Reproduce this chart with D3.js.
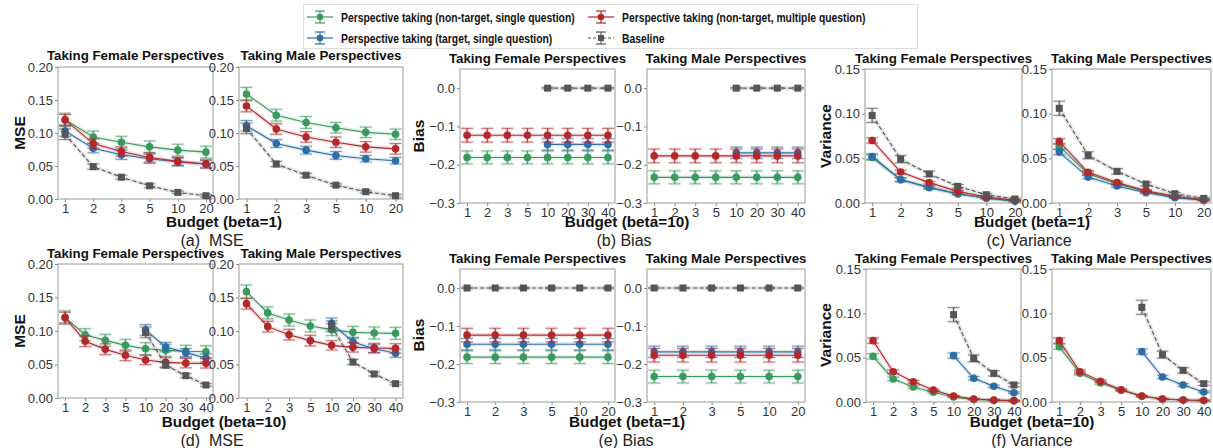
<!DOCTYPE html>
<html>
<head>
<meta charset="utf-8">
<script src="https://cdn.jsdelivr.net/npm/d3@7"></script>
<style>
  body { margin: 0; background: #fff; }
  svg { display: block; font-family: "Liberation Sans", Arial, sans-serif; }
</style>
</head>
<body>
<svg id="chart" width="1213" height="448"></svg>
<script>
// budgets on the x axis
var budgets1 = ["1", "2", "3", "5", "10", "20"];
var budgets10 = ["1", "2", "3", "5", "10", "20", "30", "40"];
var N = null;

// (a) MSE, beta=1
var aFemGreen = [0.120, 0.094, 0.086, 0.079, 0.074, 0.071];
var aFemBlue  = [0.103, 0.077, 0.067, 0.061, 0.056, 0.053];
var aFemRed   = [0.120, 0.084, 0.072, 0.063, 0.057, 0.053];
var aFemBase  = [0.098, 0.049, 0.033, 0.020, 0.010, 0.005];
var aFemGreenErr = [0.010, 0.009, 0.009, 0.009, 0.009, 0.009];
var aFemBlueErr  = [0.008, 0.007, 0.007, 0.007, 0.006, 0.006];
var aFemRedErr   = [0.008, 0.007, 0.007, 0.007, 0.006, 0.006];
var aFemBaseErr  = [0.008, 0.004, 0.003, 0.003, 0.002, 0.002];
var aMaleGreen = [0.159, 0.127, 0.116, 0.108, 0.101, 0.098];
var aMaleBlue  = [0.111, 0.084, 0.074, 0.066, 0.061, 0.058];
var aMaleRed   = [0.141, 0.106, 0.094, 0.086, 0.079, 0.076];
var aMaleBase  = [0.107, 0.053, 0.036, 0.021, 0.011, 0.005];
var aMaleGreenErr = [0.010, 0.009, 0.009, 0.008, 0.008, 0.008];
var aMaleBlueErr  = [0.008, 0.006, 0.006, 0.006, 0.005, 0.005];
var aMaleRedErr   = [0.009, 0.008, 0.008, 0.008, 0.008, 0.008];
var aMaleBaseErr  = [0.008, 0.004, 0.003, 0.002, 0.002, 0.002];

// (b) Bias, beta=10
var bFemGreen = [-0.181, -0.181, -0.181, -0.181, -0.181, -0.181, -0.181, -0.181];
var bFemBlue  = [N, N, N, N, -0.147, -0.147, -0.147, -0.147];
var bFemRed   = [-0.123, -0.123, -0.123, -0.123, -0.123, -0.123, -0.123, -0.123];
var bFemBase  = [N, N, N, N, 0, 0, 0, 0];
var bMaleGreen = [-0.233, -0.233, -0.233, -0.233, -0.233, -0.233, -0.233, -0.233];
var bMaleBlue  = [N, N, N, N, -0.169, -0.169, -0.169, -0.169];
var bMaleRed   = [-0.177, -0.177, -0.177, -0.177, -0.177, -0.177, -0.177, -0.177];
var bMaleBase  = [N, N, N, N, 0, 0, 0, 0];
var biasGreenErr = [0.017, 0.017, 0.017, 0.017, 0.017, 0.017, 0.017, 0.017];
var biasBlueErr  = [0.015, 0.015, 0.015, 0.015, 0.015, 0.015, 0.015, 0.015];
var biasRedErr   = [0.018, 0.018, 0.018, 0.018, 0.018, 0.018, 0.018, 0.018];
var biasBaseErr  = [0.002, 0.002, 0.002, 0.002, 0.002, 0.002, 0.002, 0.002];

// (c) Variance, beta=1
var cFemGreen = [0.051, 0.0262, 0.0172, 0.0102, 0.0054, 0.0021];
var cFemBlue  = [0.052, 0.026, 0.0175, 0.0104, 0.0056, 0.0022];
var cFemRed   = [0.070, 0.0347, 0.0228, 0.013, 0.0067, 0.003];
var cFemBase  = [0.098, 0.049, 0.0325, 0.0187, 0.0093, 0.0045];
var cMaleGreen = [0.0634, 0.0328, 0.0216, 0.013, 0.0067, 0.0034];
var cMaleBlue  = [0.057, 0.029, 0.019, 0.0116, 0.006, 0.003];
var cMaleRed   = [0.069, 0.0343, 0.023, 0.0138, 0.0075, 0.0037];
var cMaleBase  = [0.106, 0.0534, 0.0354, 0.0213, 0.0104, 0.0052];
var cSmallErr = [0.003, 0.002, 0.0015, 0.001, 0.0008, 0.0005];
var cRedErr   = [0.003, 0.002, 0.0015, 0.001, 0.001, 0.0005];
var cBaseErr  = [0.008, 0.004, 0.003, 0.002, 0.0015, 0.001];

// (d) MSE, beta=10
var dFemGreen = [0.120, 0.0945, 0.086, 0.0786, 0.0736, 0.0711, 0.0697, 0.069];
var dFemBlue  = [N, N, N, N, 0.1015, 0.076, 0.0677, 0.0597];
var dFemRed   = [0.120, 0.0846, 0.0726, 0.0637, 0.0567, 0.0532, 0.052, 0.0517];
var dFemBase  = [N, N, N, N, 0.098, 0.049, 0.0333, 0.0194];
var dMaleGreen = [0.1587, 0.127, 0.1164, 0.1075, 0.102, 0.098, 0.097, 0.0965];
var dMaleBlue  = [N, N, N, N, 0.1114, 0.0836, 0.0736, 0.0667];
var dMaleRed   = [0.1408, 0.1065, 0.0945, 0.0856, 0.0786, 0.0756, 0.0746, 0.074];
var dMaleBase  = [N, N, N, N, 0.107, 0.0537, 0.0358, 0.0214];
var dGreenErr = [0.010, 0.009, 0.009, 0.009, 0.009, 0.009, 0.009, 0.009];
var dBlueErr  = [N, N, N, N, 0.008, 0.007, 0.006, 0.006];
var dRedErr   = [0.008, 0.008, 0.008, 0.008, 0.007, 0.007, 0.007, 0.007];
var dBaseErr  = [N, N, N, N, 0.008, 0.004, 0.003, 0.002];

// (e) Bias, beta=1
var eFemGreen = [-0.182, -0.182, -0.182, -0.182, -0.182, -0.182];
var eFemBlue  = [-0.148, -0.148, -0.148, -0.148, -0.148, -0.148];
var eFemRed   = [-0.124, -0.124, -0.124, -0.124, -0.124, -0.124];
var eFemBase  = [0, 0, 0, 0, 0, 0];
var eMaleGreen = [-0.233, -0.233, -0.233, -0.233, -0.233, -0.233];
var eMaleBlue  = [-0.168, -0.168, -0.168, -0.168, -0.168, -0.168];
var eMaleRed   = [-0.177, -0.177, -0.177, -0.177, -0.177, -0.177];
var eMaleBase  = [0, 0, 0, 0, 0, 0];

// (f) Variance, beta=10
var fFemGreen = [0.0515, 0.026, 0.017, 0.011, 0.0056, 0.003, 0.002, 0.0015];
var fFemBlue  = [N, N, N, N, 0.0523, 0.0267, 0.0177, 0.0105];
var fFemRed   = [0.0692, 0.0342, 0.0229, 0.0135, 0.0068, 0.0034, 0.0023, 0.0015];
var fFemBase  = [N, N, N, N, 0.0985, 0.0492, 0.0323, 0.0192];
var fMaleGreen = [0.0624, 0.0323, 0.0214, 0.0132, 0.0064, 0.0034, 0.0022, 0.0017];
var fMaleBlue  = [N, N, N, N, 0.0568, 0.0282, 0.0192, 0.0113];
var fMaleRed   = [0.0692, 0.0342, 0.0233, 0.0139, 0.0068, 0.0034, 0.0023, 0.0019];
var fMaleBase  = [N, N, N, N, 0.1068, 0.0534, 0.0357, 0.0207];
var fSmallErr = [0.003, 0.002, 0.0015, 0.001, 0.0008, 0.0005, 0.0004, 0.0004];
var fBlueErr  = [N, N, N, N, 0.003, 0.002, 0.0015, 0.001];
var fBaseErr  = [N, N, N, N, 0.008, 0.004, 0.003, 0.002];

var legendLabels = [
  "Perspective taking (non-target, single question)",
  "Perspective taking (target, single question)",
  "Perspective taking (non-target, multiple question)",
  "Baseline"
];
var colors = { green: "#3a9a5e", blue: "#2e6ea6", red: "#b3282d", gray: "#555555" };

var mseTicks = [0, 0.05, 0.10, 0.15, 0.20];
var biasTicks = [0, -0.1, -0.2, -0.3];
var varTicks = [0, 0.05, 0.10, 0.15];

var svg = d3.select("#chart");

function series(g, b, r, base, ge, be, re, basee) {
  return [
    { v: g, e: ge, c: colors.green },
    { v: b, e: be, c: colors.blue },
    { v: r, e: re, c: colors.red },
    { v: base, e: basee, c: colors.gray, dash: "4,2.5", square: true }
  ];
}

function styleAxis(a) {
  a.select(".domain").remove();
  a.selectAll("line").attr("stroke", "#888");
  a.selectAll("text").attr("font-size", 13).attr("fill", "#333")
    .attr("font-family", "Liberation Sans, Arial, sans-serif");
}

function drawPanel(p) {
  var g = svg.append("g");
  var x = d3.scalePoint().domain(p.cats).range([p.x0, p.x1]).padding(p.cats.length > 6 ? 0.35 : 0.25);
  var y = d3.scaleLinear().domain(p.dom).range([p.y1, p.y0]);

  g.append("g")
    .attr("transform", "translate(0," + p.y1 + ")")
    .call(d3.axisBottom(x).tickSize(3).tickPadding(2))
    .call(styleAxis);
  g.append("g")
    .attr("transform", "translate(" + p.x0 + ",0)")
    .call(d3.axisLeft(y).tickValues(p.ticks).tickFormat(d3.format(p.fmt)).tickSize(3).tickPadding(2))
    .call(styleAxis);

  g.append("rect")
    .attr("x", p.x0).attr("y", p.y0)
    .attr("width", p.x1 - p.x0).attr("height", p.y1 - p.y0)
    .attr("fill", "none").attr("stroke", "#999").attr("stroke-width", 1);

  g.append("text")
    .attr("x", (p.x0 + p.x1) / 2).attr("y", p.ty)
    .attr("text-anchor", "middle").attr("font-weight", "bold").attr("font-size", 13.3)
    .attr("fill", "#111")
    .text(p.title);

  p.series.forEach(function(s) {
    var pts = p.cats.map(function(c, i) { return { c: c, v: s.v[i], e: s.e[i] }; })
      .filter(function(d) { return d.v != null; });
    var line = d3.line()
      .x(function(d) { return x(d.c); })
      .y(function(d) { return y(d.v); });
    var sg = g.append("g");
    sg.append("path").attr("d", line(pts)).attr("fill", "none")
      .attr("stroke", s.c).attr("stroke-opacity", 0.15).attr("stroke-width", 4);
    sg.append("path").attr("d", line(pts)).attr("fill", "none")
      .attr("stroke", s.c).attr("stroke-width", 1.1)
      .attr("stroke-dasharray", s.dash || null);

    var eb = sg.selectAll(".eb").data(pts).enter().append("g");
    [[3.5, 0.18], [1.1, 0.9]].forEach(function(st) {
      eb.append("line")
        .attr("x1", function(d) { return x(d.c); }).attr("x2", function(d) { return x(d.c); })
        .attr("y1", function(d) { return y(d.v - d.e); }).attr("y2", function(d) { return y(d.v + d.e); })
        .attr("stroke", s.c).attr("stroke-width", st[0]).attr("stroke-opacity", st[1]);
      [-1, 1].forEach(function(sign) {
        eb.append("line")
          .attr("x1", function(d) { return x(d.c) - 6; }).attr("x2", function(d) { return x(d.c) + 6; })
          .attr("y1", function(d) { return y(d.v + sign * d.e); }).attr("y2", function(d) { return y(d.v + sign * d.e); })
          .attr("stroke", s.c).attr("stroke-width", st[0] * 0.8).attr("stroke-opacity", st[1] * 0.8);
      });
    });
    if (s.square) {
      eb.append("rect")
        .attr("x", function(d) { return x(d.c) - 3.5; }).attr("y", function(d) { return y(d.v) - 3.5; })
        .attr("width", 7).attr("height", 7).attr("fill", s.c);
    } else {
      eb.append("circle")
        .attr("cx", function(d) { return x(d.c); }).attr("cy", function(d) { return y(d.v); })
        .attr("r", 3.8).attr("fill", s.c);
    }
  });
}

function groupText(yLabel, ylx, yly, bx, by, bText, capx, capy, cap) {
  svg.append("text").attr("transform", "translate(" + ylx + "," + yly + ") rotate(-90)")
    .attr("text-anchor", "middle").attr("font-weight", "bold").attr("font-size", 15.5).attr("fill", "#111")
    .text(yLabel);
  svg.append("text").attr("x", bx).attr("y", by)
    .attr("text-anchor", "middle").attr("font-weight", "bold").attr("font-size", 15.3).attr("fill", "#111")
    .text(bText);
  svg.append("text").attr("x", capx).attr("y", capy)
    .attr("text-anchor", "middle").attr("font-size", 16).attr("fill", "#222")
    .style("white-space", "pre")
    .text(cap);
}

// top row
drawPanel({ x0: 58, x1: 213, y0: 67, y1: 199, cats: budgets1, dom: [0, 0.2], ticks: mseTicks, fmt: ".2f", title: "Taking Female Perspectives", ty: 60,
  series: series(aFemGreen, aFemBlue, aFemRed, aFemBase, aFemGreenErr, aFemBlueErr, aFemRedErr, aFemBaseErr) });
drawPanel({ x0: 239, x1: 403, y0: 67, y1: 199, cats: budgets1, dom: [0, 0.2], ticks: mseTicks, fmt: ".2f", title: "Taking Male Perspectives", ty: 60,
  series: series(aMaleGreen, aMaleBlue, aMaleRed, aMaleBase, aMaleGreenErr, aMaleBlueErr, aMaleRedErr, aMaleBaseErr) });
drawPanel({ x0: 460, x1: 615, y0: 69, y1: 203, cats: budgets10, dom: [-0.3, 0.05], ticks: biasTicks, fmt: ".1f", title: "Taking Female Perspectives", ty: 63,
  series: series(bFemGreen, bFemBlue, bFemRed, bFemBase, biasGreenErr, biasBlueErr, biasRedErr, biasBaseErr) });
drawPanel({ x0: 647, x1: 805, y0: 69, y1: 203, cats: budgets10, dom: [-0.3, 0.05], ticks: biasTicks, fmt: ".1f", title: "Taking Male Perspectives", ty: 63,
  series: series(bMaleGreen, bMaleBlue, bMaleRed, bMaleBase, biasGreenErr, biasBlueErr, biasRedErr, biasBaseErr) });
drawPanel({ x0: 865, x1: 1022, y0: 69, y1: 203, cats: budgets1, dom: [0, 0.15], ticks: varTicks, fmt: ".2f", title: "Taking Female Perspectives", ty: 63,
  series: series(cFemGreen, cFemBlue, cFemRed, cFemBase, cSmallErr, cSmallErr, cRedErr, cBaseErr) });
drawPanel({ x0: 1052, x1: 1211, y0: 69, y1: 203, cats: budgets1, dom: [0, 0.15], ticks: varTicks, fmt: ".2f", title: "Taking Male Perspectives", ty: 63,
  series: series(cMaleGreen, cMaleBlue, cMaleRed, cMaleBase, cSmallErr, cSmallErr, cRedErr, cBaseErr) });

// bottom row
drawPanel({ x0: 58, x1: 213, y0: 264, y1: 398, cats: budgets10, dom: [0, 0.2], ticks: mseTicks, fmt: ".2f", title: "Taking Female Perspectives", ty: 258,
  series: series(dFemGreen, dFemBlue, dFemRed, dFemBase, dGreenErr, dBlueErr, dRedErr, dBaseErr) });
drawPanel({ x0: 239, x1: 403, y0: 264, y1: 398, cats: budgets10, dom: [0, 0.2], ticks: mseTicks, fmt: ".2f", title: "Taking Male Perspectives", ty: 258,
  series: series(dMaleGreen, dMaleBlue, dMaleRed, dMaleBase, dGreenErr, dBlueErr, dRedErr, dBaseErr) });
drawPanel({ x0: 460, x1: 615, y0: 269, y1: 402, cats: budgets1, dom: [-0.3, 0.05], ticks: biasTicks, fmt: ".1f", title: "Taking Female Perspectives", ty: 263,
  series: series(eFemGreen, eFemBlue, eFemRed, eFemBase, biasGreenErr, biasBlueErr, biasRedErr, biasBaseErr) });
drawPanel({ x0: 647, x1: 805, y0: 269, y1: 402, cats: budgets1, dom: [-0.3, 0.05], ticks: biasTicks, fmt: ".1f", title: "Taking Male Perspectives", ty: 263,
  series: series(eMaleGreen, eMaleBlue, eMaleRed, eMaleBase, biasGreenErr, biasBlueErr, biasRedErr, biasBaseErr) });
drawPanel({ x0: 866, x1: 1021, y0: 269, y1: 402, cats: budgets10, dom: [0, 0.15], ticks: varTicks, fmt: ".2f", title: "Taking Female Perspectives", ty: 263,
  series: series(fFemGreen, fFemBlue, fFemRed, fFemBase, fSmallErr, fBlueErr, fSmallErr, fBaseErr) });
drawPanel({ x0: 1052, x1: 1211, y0: 269, y1: 402, cats: budgets10, dom: [0, 0.15], ticks: varTicks, fmt: ".2f", title: "Taking Male Perspectives", ty: 263,
  series: series(fMaleGreen, fMaleBlue, fMaleRed, fMaleBase, fSmallErr, fBlueErr, fSmallErr, fBaseErr) });

groupText("MSE", 25, 133, 224, 227, "Budget (beta=1)", 212, 246, "(a)  MSE");
groupText("Bias", 424, 136, 627, 227, "Budget (beta=10)", 624, 246, "(b) Bias");
groupText("Variance", 831, 136, 1032, 227, "Budget (beta=1)", 1029, 246, "(c) Variance");
groupText("MSE", 25, 331, 224, 427, "Budget (beta=10)", 212, 446, "(d)  MSE");
groupText("Bias", 424, 335, 627, 427, "Budget (beta=1)", 626, 446, "(e) Bias");
groupText("Variance", 831, 335, 1032, 427, "Budget (beta=10)", 1032, 446, "(f) Variance");

// legend
var leg = svg.append("g");
leg.append("rect").attr("x", 303.5).attr("y", 4.5).attr("width", 614).attr("height", 44)
  .attr("fill", "#fff").attr("stroke", "#ddd");
var legItems = [
  { label: legendLabels[0], c: colors.green, x: 307, y: 17 },
  { label: legendLabels[1], c: colors.blue, x: 307, y: 38 },
  { label: legendLabels[2], c: colors.red, x: 588, y: 17 },
  { label: legendLabels[3], c: colors.gray, x: 588, y: 38, dash: "3,2", square: true }
];
legItems.forEach(function(it) {
  var li = leg.append("g").attr("transform", "translate(" + it.x + "," + it.y + ")");
  li.append("line").attr("x1", 0).attr("x2", 26).attr("stroke", it.c).attr("stroke-width", 1.2)
    .attr("stroke-dasharray", it.dash || null);
  li.append("line").attr("x1", 13).attr("x2", 13).attr("y1", -6).attr("y2", 6).attr("stroke", it.c).attr("stroke-width", 1.2);
  li.append("line").attr("x1", 8).attr("x2", 18).attr("y1", -6).attr("y2", -6).attr("stroke", it.c).attr("stroke-width", 1.2);
  li.append("line").attr("x1", 8).attr("x2", 18).attr("y1", 6).attr("y2", 6).attr("stroke", it.c).attr("stroke-width", 1.2);
  if (it.square) li.append("rect").attr("x", 10).attr("y", -3).attr("width", 6).attr("height", 6).attr("fill", it.c);
  else li.append("circle").attr("cx", 13).attr("r", 3.3).attr("fill", it.c);
  var t = li.append("text").attr("x", 34).attr("y", 5).attr("font-weight", "bold").attr("font-size", 13.6)
    .attr("fill", "#111").text(it.label);
  // the legend font in the figure is a condensed bold face
  var w = t.node().getComputedTextLength();
  t.attr("textLength", w * 0.76).attr("lengthAdjust", "spacingAndGlyphs");
});
</script>
</body>
</html>
